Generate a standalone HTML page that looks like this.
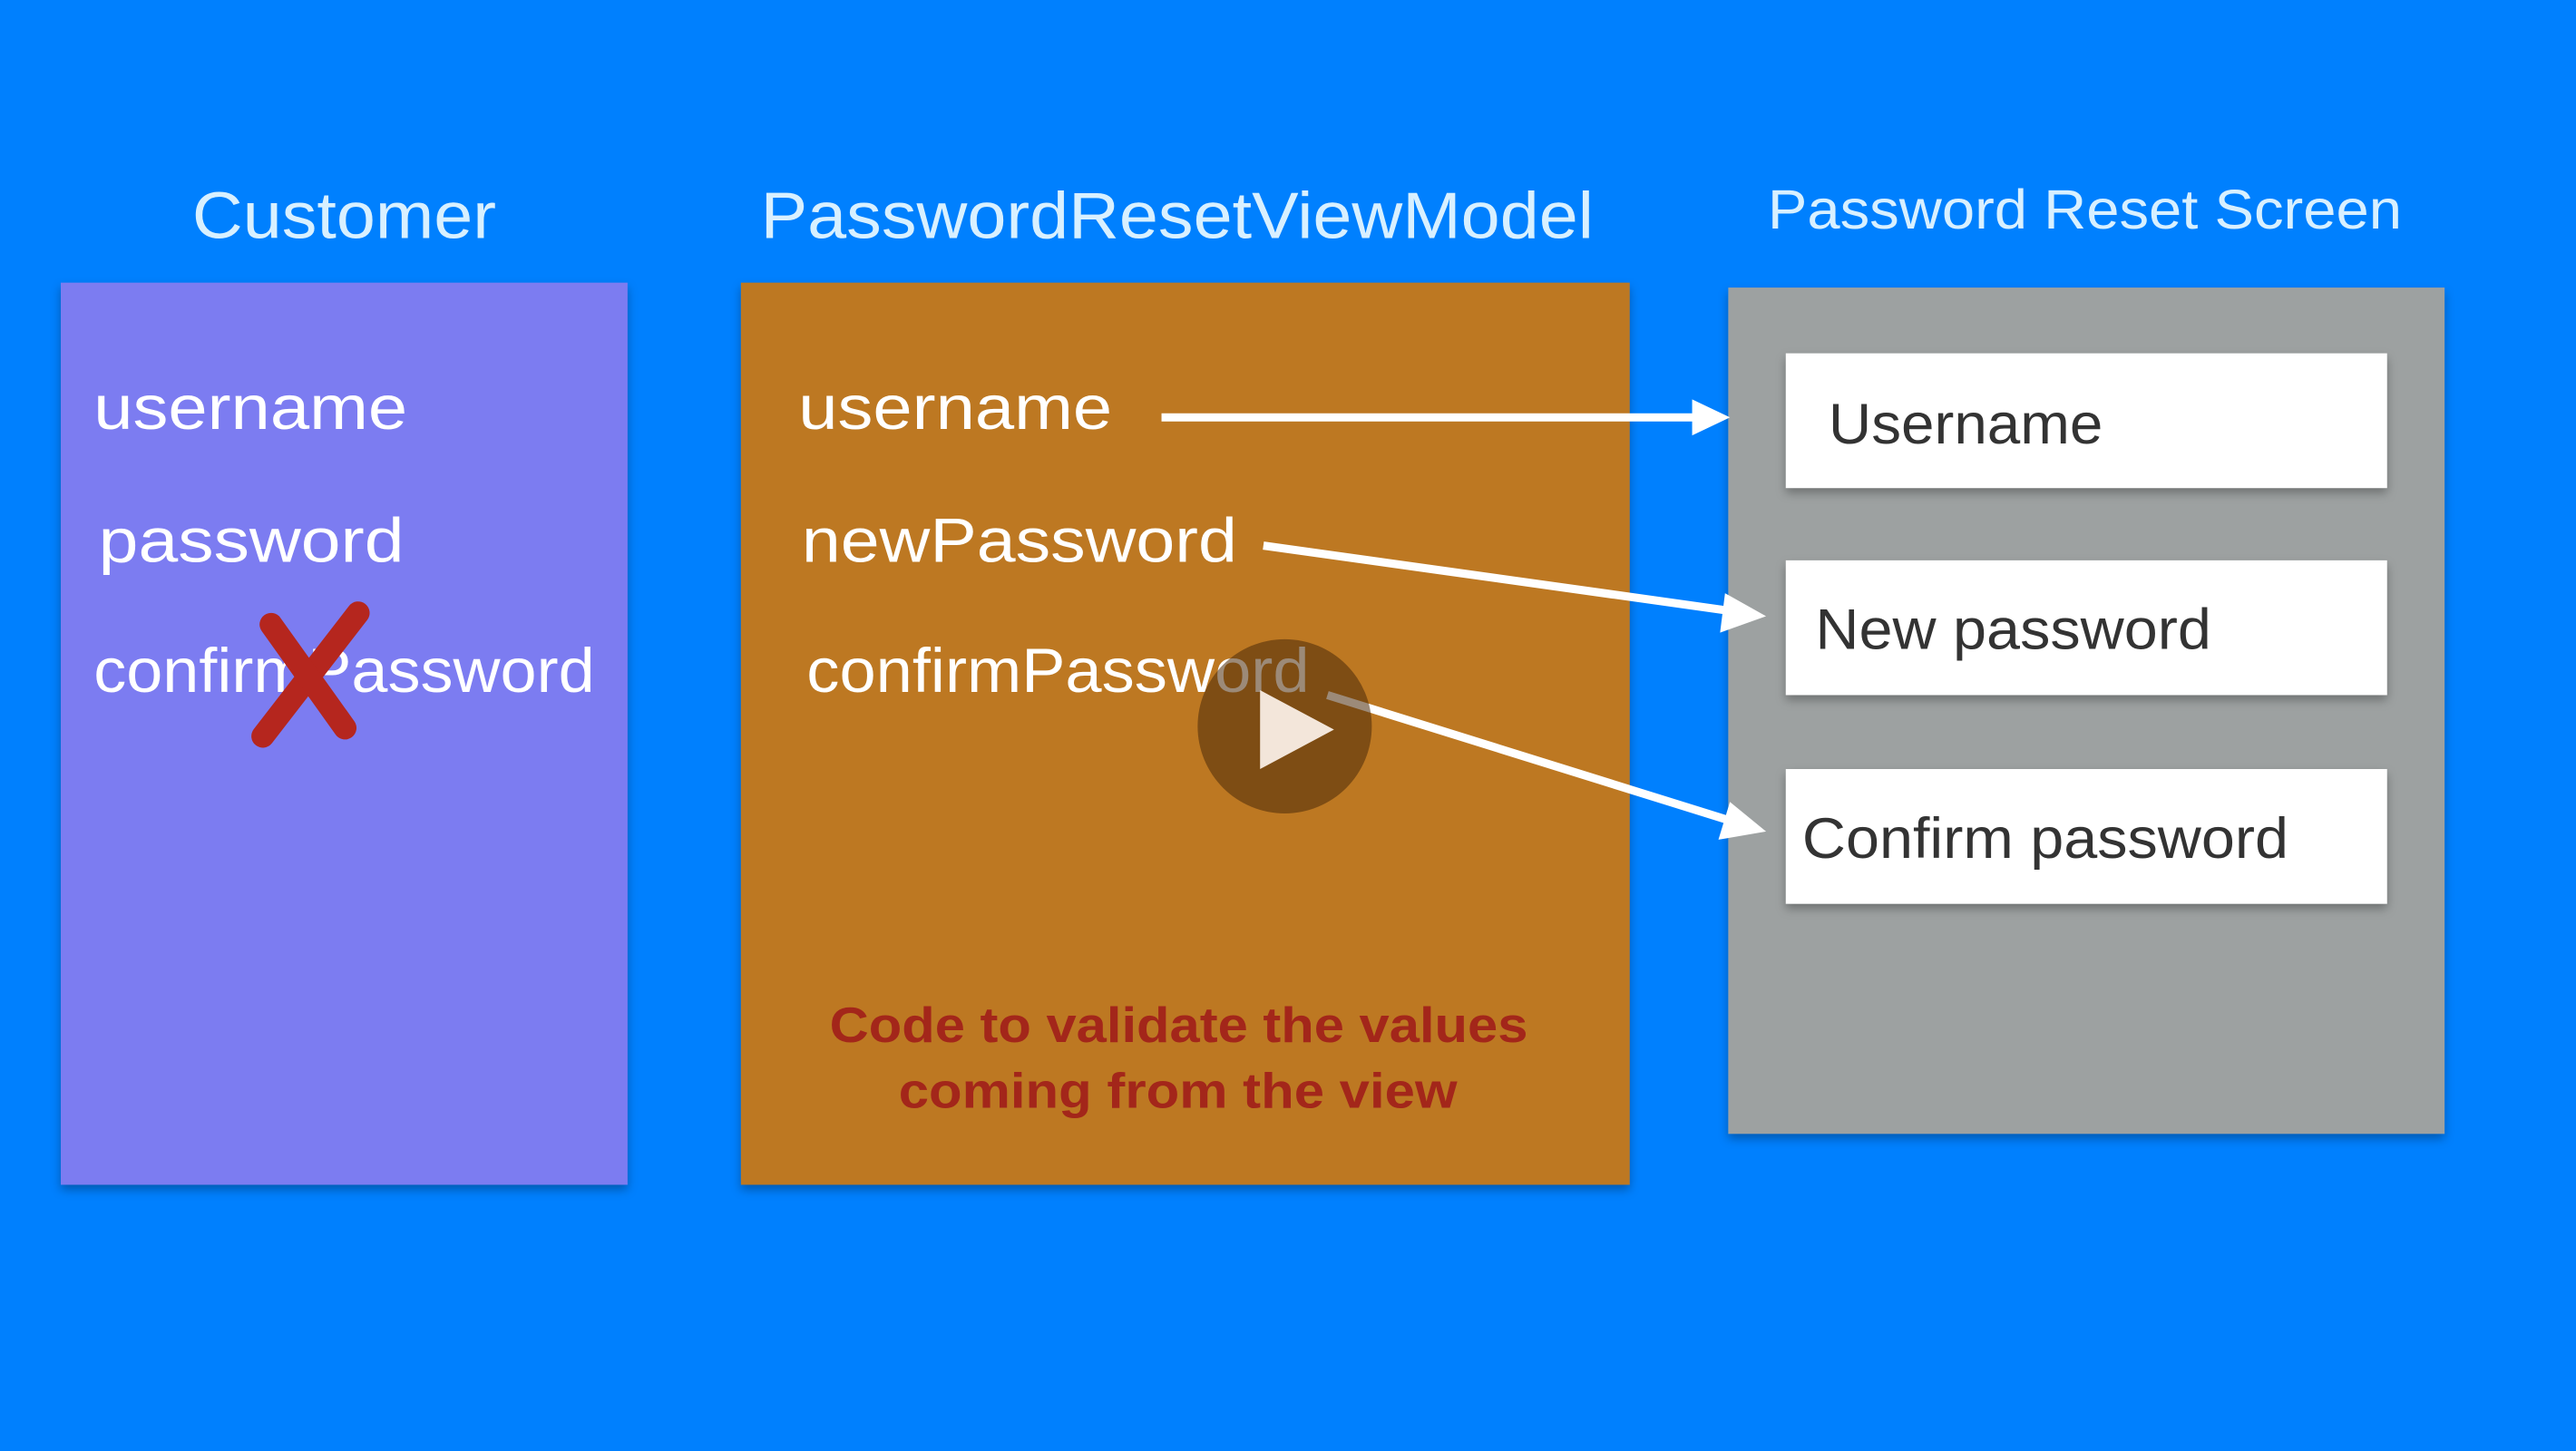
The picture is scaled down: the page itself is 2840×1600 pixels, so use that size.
<!DOCTYPE html>
<html><head><style>
html,body{margin:0;padding:0;background:#0080FE;}
svg{display:block}
text{font-family:"Liberation Sans",sans-serif;}
</style></head><body>
<svg width="2840" height="1600" viewBox="0 0 1568 883" preserveAspectRatio="none" xmlns="http://www.w3.org/2000/svg">
<rect width="1568" height="883" fill="#0080FE"/>
<defs>
<filter id="sh" x="-10%" y="-10%" width="120%" height="130%"><feDropShadow dx="0" dy="3" stdDeviation="3" flood-color="#000" flood-opacity="0.3"/></filter>
</defs>
<text x="117" y="145" fill="#D8F0FF" font-size="40" textLength="185" lengthAdjust="spacingAndGlyphs">Customer</text>
<text x="463" y="145" fill="#D8F0FF" font-size="40" textLength="507" lengthAdjust="spacingAndGlyphs">PasswordResetViewModel</text>
<text x="1076" y="139" fill="#D8F0FF" font-size="34" textLength="386" lengthAdjust="spacingAndGlyphs">Password Reset Screen</text>
<rect x="37" y="172" width="345" height="549" fill="#7B7BF1" filter="url(#sh)"/>
<rect x="451" y="172" width="541" height="549" fill="#BD7823" filter="url(#sh)"/>
<rect x="1052" y="175" width="436" height="515" fill="#9DA1A1" filter="url(#sh)"/>
<g fill="#fff" font-size="38">
<text x="57" y="261" textLength="191" lengthAdjust="spacingAndGlyphs">username</text>
<text x="60" y="342" textLength="186" lengthAdjust="spacingAndGlyphs">password</text>
<text x="57" y="421" textLength="305" lengthAdjust="spacingAndGlyphs">confirmPassword</text>
<text x="486" y="261" textLength="191" lengthAdjust="spacingAndGlyphs">username</text>
<text x="488" y="342" textLength="265" lengthAdjust="spacingAndGlyphs">newPassword</text>
<text x="491" y="421" textLength="306" lengthAdjust="spacingAndGlyphs">confirmPassword</text>
</g>
<g stroke="#B5261E" stroke-width="14" stroke-linecap="round">
<line x1="218" y1="373" x2="160" y2="448"/>
<line x1="165" y1="380" x2="210" y2="443"/>
</g>
<g filter="url(#sh)" fill="#fff">
<rect x="1087" y="215" width="366" height="82"/>
<rect x="1087" y="341" width="366" height="82"/>
<rect x="1087" y="468" width="366" height="82"/>
</g>
<g fill="#333" font-size="35">
<text x="1113" y="270" textLength="167" lengthAdjust="spacingAndGlyphs">Username</text>
<text x="1105" y="395" textLength="241" lengthAdjust="spacingAndGlyphs">New password</text>
<text x="1097" y="522" textLength="296" lengthAdjust="spacingAndGlyphs">Confirm password</text>
</g>
<g stroke="#fff" stroke-width="5" fill="none">
<line x1="707" y1="254" x2="1035" y2="254"/>
<line x1="769" y1="332" x2="1055" y2="372"/>
<line x1="808" y1="423" x2="1055" y2="500"/>
</g>
<g fill="#fff">
<polygon points="1053,254 1030,243 1030,265"/>
<polygon points="1075,375 1050,361 1047,385"/>
<polygon points="1075,506 1053,488 1046,511"/>
</g>
<ellipse cx="782" cy="442" rx="53" ry="53" fill="#4A2A0A" opacity="0.55"/>
<polygon points="767,420 767,468 812,444" fill="#F3E6DA"/>
<g fill="#A3261A" font-size="30" font-weight="bold">
<text x="505" y="634" textLength="425" lengthAdjust="spacingAndGlyphs">Code to validate the values</text>
<text x="547" y="674" textLength="340" lengthAdjust="spacingAndGlyphs">coming from the view</text>
</g>
</svg>
</body></html>
